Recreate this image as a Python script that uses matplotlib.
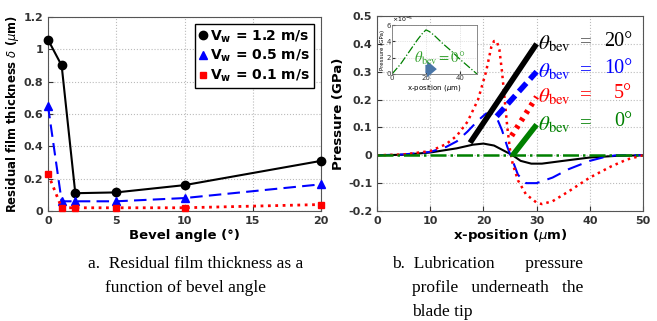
import numpy as np
import matplotlib.pyplot as plt

# --- left panel data: residual film thickness vs bevel angle ---
bevel = [0, 1, 2, 5, 10, 20]
film_12 = [1.06, 0.90, 0.11, 0.115, 0.16, 0.31]
film_05 = [0.65, 0.06, 0.06, 0.06, 0.08, 0.165]
film_01 = [0.23, 0.02, 0.02, 0.02, 0.02, 0.04]

# --- right panel data: pressure profiles (GPa) ---
x20 = [0, 5, 10, 15, 18, 20, 22, 24, 25.5, 27, 29, 31, 35, 40, 45, 50]
p20 = [0, 0.002, 0.01, 0.025, 0.038, 0.042, 0.035, 0.015, 0, -0.02, -0.03, -0.03, -0.02, -0.008, -0.002, 0]
x10 = [0, 5, 10, 13, 15, 17, 19, 20.5, 21.5, 22.5, 23.5, 24.5, 25.5, 26.5, 28, 30, 33, 36, 40, 43, 45, 50]
p10 = [0, 0.003, 0.012, 0.03, 0.05, 0.085, 0.125, 0.15, 0.15, 0.135, 0.09, 0.03, -0.02, -0.07, -0.1, -0.1, -0.08, -0.05, -0.02, -0.005, 0, 0]
x5 = [0, 5, 10, 13, 15, 17, 19, 20.5, 21.5, 22, 22.5, 23, 23.5, 24, 24.5, 25, 25.5, 26.5, 28, 30, 31, 33, 36, 40, 44, 47, 50]
p5 = [0, 0.003, 0.015, 0.04, 0.07, 0.12, 0.2, 0.3, 0.39, 0.41, 0.41, 0.38, 0.3, 0.2, 0.1, 0.02, -0.03, -0.09, -0.14, -0.17, -0.175, -0.165, -0.13, -0.08, -0.04, -0.015, 0]
x0 = [0, 50]
p0 = [0, 0]

# inset (theta = 0) in units of 1e-5 GPa
xin = [0, 5, 10, 15, 18, 20, 22, 25, 30, 35, 40, 45, 50]
pin = [0, 1.2, 2.7, 4.2, 5.0, 5.4, 5.2, 4.7, 3.7, 2.8, 1.8, 0.9, 0]

labels = ['20°', '10°', '5°', '0°']
colors = ['black', 'blue', 'red', 'green']
eq_colors = ['#555555', 'blue', 'red', 'green']
# leader line start (on curve) and label y positions
lead_start = [(17.5, 0.045), (22.5, 0.14), (25.3, 0.07), (25.5, 0.0)]
label_y = [0.40, 0.30, 0.21, 0.11]

fig = plt.figure(figsize=(6.57, 3.21), dpi=100)
W, H = 657, 321

def add_ax(x0_, y0_, x1_, y1_):
    return fig.add_axes([x0_ / W, 1 - y1_ / H, (x1_ - x0_) / W, (y1_ - y0_) / H])

tick_kw = dict(direction='in', labelsize=8, colors='#333333', labelcolor='#333333')

# ---------------- left panel ----------------
ax1 = add_ax(48, 17, 321, 211)
ax1.plot(bevel, film_12, 'k-', marker='o', ms=6, lw=1.5, clip_on=False, zorder=3,
         label=r'V$_\mathregular{w}$ = 1.2 m/s')
ax1.plot(bevel, film_05, color='blue', ls=(0, (6, 3)), marker='^', ms=6, lw=1.5, clip_on=False, zorder=3,
         label=r'V$_\mathregular{w}$ = 0.5 m/s')
ax1.plot(bevel, film_01, color='red', ls=':', marker='s', ms=5, lw=2, clip_on=False, zorder=3,
         label=r'V$_\mathregular{w}$ = 0.1 m/s')
ax1.set_xlim(0, 20)
ax1.set_ylim(0, 1.2)
ax1.set_xticks([0, 5, 10, 15, 20])
ax1.set_yticks([0, 0.2, 0.4, 0.6, 0.8, 1.0, 1.2])
ax1.set_yticklabels(['0', '0.2', '0.4', '0.6', '0.8', '1', '1.2'])
ax1.grid(True, ls=':', color='#bbbbbb', lw=0.8)
ax1.tick_params(**tick_kw)
for lab in ax1.get_xticklabels() + ax1.get_yticklabels():
    lab.set_fontweight('bold')
ax1.set_xlabel('Bevel angle (°)', fontsize=9.5, fontweight='bold', labelpad=2)
ax1.set_ylabel(r'Residual film thickness $\delta$ ($\mu$m)', fontsize=8.4, fontweight='bold')
ax1.yaxis.set_label_coords(-0.1, 0.5)
leg = ax1.legend(loc='upper right', prop={'weight': 'bold', 'size': 10},
                 handlelength=0.6, handletextpad=0.2, borderpad=0.3, labelspacing=0.25,
                 fancybox=False, edgecolor='black', framealpha=1)
for h in leg.legend_handles:
    h.set_linestyle('none')
for sp in ax1.spines.values():
    sp.set_color('#555555')

# ---------------- right panel ----------------
ax2 = add_ax(377, 16, 643, 211)
ax2.plot(x20, p20, color='black', lw=1.5)
ax2.plot(x10, p10, color='blue', lw=1.5, ls=(0, (7, 4)))
ax2.plot(x5, p5, color='red', lw=1.8, ls=':')
ax2.plot(x0, p0, color='green', lw=1.8, ls='-.')
ax2.set_xlim(0, 50)
ax2.set_ylim(-0.2, 0.5)
ax2.set_xticks([0, 10, 20, 30, 40, 50])
ax2.set_yticks([-0.2, -0.1, 0, 0.1, 0.2, 0.3, 0.4, 0.5])
ax2.set_yticklabels(['-0.2', '-0.1', '0', '0.1', '0.2', '0.3', '0.4', '0.5'])
ax2.grid(True, ls=':', color='#bbbbbb', lw=0.8)
ax2.tick_params(**tick_kw)
for lab in ax2.get_xticklabels() + ax2.get_yticklabels():
    lab.set_fontweight('bold')
ax2.set_xlabel(r'x-position ($\mu$m)', fontsize=9.5, fontweight='bold', labelpad=1)
ax2.set_ylabel('Pressure (GPa)', fontsize=9.5, fontweight='bold', labelpad=2)
for sp in ax2.spines.values():
    sp.set_color('#555555')

styles = ['-', (0, (2, 1)), (0, (0.6, 1.0)), '-']
for lab, c, ec, (sx, sy), ly, st in zip(labels, colors, eq_colors, lead_start, label_y, styles):
    ax2.plot([sx, 30], [sy, ly], color=c, lw=4, ls=st, solid_capstyle='butt')
    ax2.text(30.3, ly, r'$\theta_{\rm bev}$', color=c, fontsize=15, va='center', ha='left',
             math_fontfamily='stix')
    ax2.text(39.2, ly + 0.003, '=', color=ec, fontsize=15, va='center', ha='center', family='Liberation Serif')
    ax2.text(48.0, ly + 0.01, lab, color=c, fontsize=14.5, va='center', ha='right', family='Liberation Serif')

# inset
ax3 = add_ax(392, 25, 477, 74)
ax3.plot(xin, pin, color='green', lw=0.9, ls='-.')
ax3.set_xlim(0, 50)
ax3.set_ylim(0, 6)
ax3.set_xticks([0, 20, 40])
ax3.set_yticks([0, 2, 4, 6])
ax3.grid(True, ls=':', color='#cccccc', lw=0.5)
ax3.tick_params(direction='in', labelsize=5, length=2, pad=1, colors='#333333')
ax3.set_xlabel(r'x-position ($\mu$m)', fontsize=5, labelpad=1)
ax3.set_ylabel('Pressure (GPa)', fontsize=4, labelpad=1)
ax3.text(0, 1.02, r'$\times10^{-5}$', transform=ax3.transAxes, fontsize=4.5, va='bottom')
ax3.annotate('', xy=(28, 0.6), xytext=(18, 0.6),
             arrowprops=dict(arrowstyle='simple,head_width=1.2,head_length=0.7,tail_width=0.6',
                             color='#4a76a8', lw=0))
ax3.text(13, 1.4, r'$\theta_{\rm bev}=0°$', color='#33a02c', fontsize=10.5, math_fontfamily='stix')
for sp in ax3.spines.values():
    sp.set_color('#777777')
    sp.set_linewidth(0.6)

# captions
cap = dict(family='Liberation Serif', fontsize=12.5, va='top', ha='left')
fig.text(88 / W, 1 - 256 / H, 'a.  Residual film thickness as a', **cap)
fig.text(105 / W, 1 - 280 / H, 'function of bevel angle', **cap)
fig.text(392 / W, 1 - 256 / H, 'b.  Lubrication       pressure', **cap)
fig.text(412 / W, 1 - 280 / H, 'profile   underneath   the', **cap)
fig.text(412 / W, 1 - 304 / H, 'blade tip', **cap)

fig.savefig('out.png', dpi=100)
